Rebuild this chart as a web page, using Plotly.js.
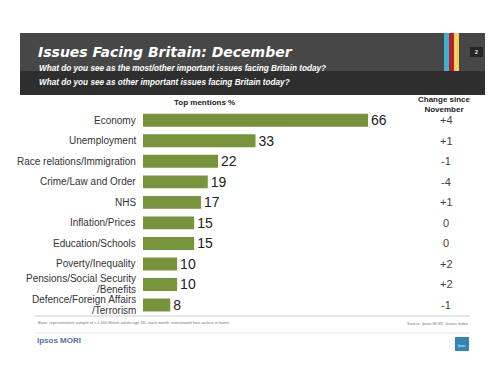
<!DOCTYPE html>
<html>
<head>
<meta charset="utf-8">
<script src="https://cdn.plot.ly/plotly-3.0.1.min.js"></script>
<style>
html,body{margin:0;padding:0;background:#fff;}
#chart{width:494px;height:370px;}
</style>
</head>
<body>
<div id="chart"></div>
<script>
var categories = ["Economy","Unemployment","Race relations/Immigration","Crime/Law and Order","NHS","Inflation/Prices","Education/Schools","Poverty/Inequality","Pensions/Social Security<br>/Benefits","Defence/Foreign Affairs<br>/Terrorism"];
var topMentions = [66,33,22,19,17,15,15,10,10,8];
var changeSinceNov = ["+4","+1","-1","-4","+1","0","0","+2","+2","-1"];

var W = 494, H = 370;
var L = 143, R = 443, T = 110, B = 318;
function px(x){ return (x - L) / (R - L); }
function py(y){ return (B - y) / (B - T); }
var FONT = 'Liberation Sans, Arial, sans-serif';

var shapes = [
  {type:'rect', xref:'paper', yref:'paper', x0:px(20), x1:px(485), y0:py(71), y1:py(33), fillcolor:'#474747', line:{width:0}, layer:'below'},
  {type:'rect', xref:'paper', yref:'paper', x0:px(20), x1:px(485), y0:py(95), y1:py(71), fillcolor:'#2e2e2e', line:{width:0}, layer:'below'},
  {type:'rect', xref:'paper', yref:'paper', x0:px(444), x1:px(449), y0:py(71), y1:py(33), fillcolor:'#3fb0cf', line:{width:0}},
  {type:'rect', xref:'paper', yref:'paper', x0:px(449), x1:px(454), y0:py(71), y1:py(33), fillcolor:'#b3202e', line:{width:0}},
  {type:'rect', xref:'paper', yref:'paper', x0:px(454), x1:px(459), y0:py(71), y1:py(33), fillcolor:'#f1d35a', line:{width:0}},
  {type:'rect', xref:'paper', yref:'paper', x0:px(470), x1:px(483), y0:py(57), y1:py(47), fillcolor:'#262626', line:{width:0}},
  {type:'line', xref:'paper', yref:'paper', x0:px(35), x1:px(470), y0:py(316), y1:py(316), line:{color:'#d0d0d0', width:1}},
  {type:'line', xref:'paper', yref:'paper', x0:px(35), x1:px(470), y0:py(333), y1:py(333), line:{color:'#e6e6e6', width:1}},
  {type:'rect', xref:'paper', yref:'paper', x0:px(455), x1:px(469), y0:py(351), y1:py(337), fillcolor:'#3385b5', line:{width:0}}
];

var annotations = [
  {xref:'paper', yref:'paper', x:px(36), y:py(51.5), xanchor:'left', yanchor:'middle', showarrow:false,
   text:'<b><i>Issues Facing Britain: December</i></b>', font:{family:'DejaVu Sans, sans-serif', size:14, color:'#ffffff'}},
  {xref:'paper', yref:'paper', x:px(37), y:py(68), xanchor:'left', yanchor:'middle', showarrow:false,
   text:'<b><i>What do you see as the most/other important issues facing Britain today?</i></b>', font:{family:FONT, size:8.2, color:'#ffffff'}},
  {xref:'paper', yref:'paper', x:px(37), y:py(82.5), xanchor:'left', yanchor:'middle', showarrow:false,
   text:'<b><i>What do you see as other important issues facing Britain today?</i></b>', font:{family:FONT, size:8.2, color:'#ffffff'}},
  {xref:'paper', yref:'paper', x:px(476.5), y:py(52), xanchor:'center', yanchor:'middle', showarrow:false,
   text:'<b>2</b>', font:{family:FONT, size:5, color:'#ffffff'}},
  {xref:'paper', yref:'paper', x:px(204), y:py(103), xanchor:'center', yanchor:'middle', showarrow:false,
   text:'<b>Top mentions %</b>', font:{family:FONT, size:8, color:'#222'}},
  {xref:'paper', yref:'paper', x:px(444), y:py(104), xanchor:'center', yanchor:'middle', showarrow:false,
   text:'<b>Change since<br>November</b>', font:{family:FONT, size:8, color:'#222'}},
  {xref:'paper', yref:'paper', x:px(36), y:py(322), xanchor:'left', yanchor:'middle', showarrow:false,
   text:'Base: representative sample of c.1,000 British adults age 18+ each month, interviewed face-to-face in home', font:{family:FONT, size:4, color:'#777'}},
  {xref:'paper', yref:'paper', x:px(470), y:py(323), xanchor:'right', yanchor:'middle', showarrow:false,
   text:'Source: Ipsos MORI  Issues Index', font:{family:FONT, size:4, color:'#777'}},
  {xref:'paper', yref:'paper', x:px(35), y:py(340), xanchor:'left', yanchor:'middle', showarrow:false,
   text:'<b>Ipsos MORI</b>', font:{family:FONT, size:8, color:'#5a6f9a'}},
  {xref:'paper', yref:'paper', x:px(462), y:py(346), xanchor:'center', yanchor:'middle', showarrow:false,
   text:'Ipsos', font:{family:FONT, size:3, color:'#ffffff'}}
];

for (var i = 0; i < categories.length; i++) {
  annotations.push({xref:'paper', yref:'y', x:px(446), y:categories[i], xanchor:'center', yanchor:'middle', showarrow:false,
    text:changeSinceNov[i], font:{family:FONT, size:11, color:'#444'}});
  var lines = categories[i].split('<br>');
  for (var j = 0; j < lines.length; j++) {
    var shift = (lines.length - 1) * 5.5 - j * 11;
    annotations.push({xref:'paper', yref:'y', x:px(137.5), y:categories[i], yshift:shift, xanchor:'right', yanchor:'middle', showarrow:false,
      text:lines[j], font:{family:FONT, size:10, color:'#333'}});
  }
}

var trace = {
  type:'bar', orientation:'h',
  x: topMentions, y: categories,
  marker:{color:'#77933c'},
  text: topMentions.map(String), textposition:'outside', cliponaxis:false, constraintext:'none',
  textfont:{family:FONT, size:14, color:'#222'},
  hoverinfo:'none'
};

var layout = {
  width:W, height:H,
  margin:{l:L, r:W-R, t:T, b:H-B, pad:0},
  paper_bgcolor:'#ffffff', plot_bgcolor:'#ffffff',
  showlegend:false,
  bargap:0.37,
  xaxis:{range:[0, 88], visible:false, fixedrange:true},
  yaxis:{autorange:'reversed', type:'category', showgrid:false, zeroline:false, showline:false,
    showticklabels:false, ticks:''},
  shapes:shapes, annotations:annotations,
  font:{family:FONT}
};

Plotly.newPlot('chart', [trace], layout, {staticPlot:true, displayModeBar:false});
</script>
</body>
</html>
